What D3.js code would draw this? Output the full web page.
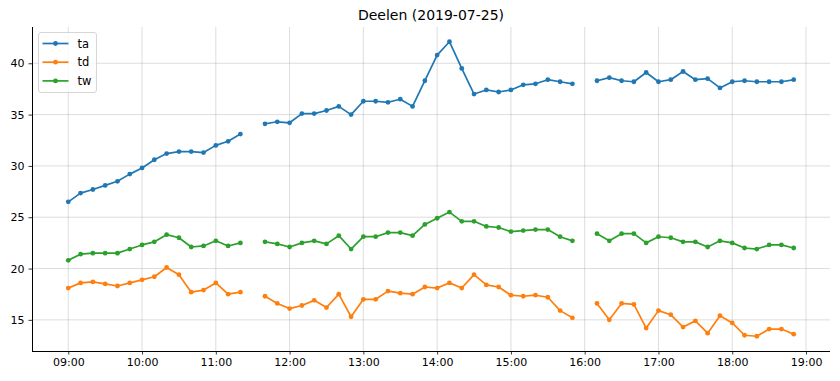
<!DOCTYPE html>
<html>
<head>
<meta charset="utf-8">
<script src="https://cdn.jsdelivr.net/npm/d3@7"></script>
<style>
  body { margin: 0; background: #fff; }
  svg { display: block; font-family: "DejaVu Sans", sans-serif; }
</style>
</head>
<body>
<svg id="chart" width="840" height="381"></svg>
<script>
// 10-minute observations, 09:00 .. 18:50 (null = missing)
const times = [
  "09:00","09:10","09:20","09:30","09:40","09:50",
  "10:00","10:10","10:20","10:30","10:40","10:50",
  "11:00","11:10","11:20","11:30","11:40","11:50",
  "12:00","12:10","12:20","12:30","12:40","12:50",
  "13:00","13:10","13:20","13:30","13:40","13:50",
  "14:00","14:10","14:20","14:30","14:40","14:50",
  "15:00","15:10","15:20","15:30","15:40","15:50",
  "16:00","16:10","16:20","16:30","16:40","16:50",
  "17:00","17:10","17:20","17:30","17:40","17:50",
  "18:00","18:10","18:20","18:30","18:40","18:50"
];
const ta = [
  26.5,27.35,27.7,28.1,28.5,29.2,
  29.8,30.6,31.2,31.4,31.4,31.3,
  32.0,32.4,33.1,null,34.1,34.3,
  34.2,35.1,35.1,35.4,35.8,35.0,
  36.3,36.3,36.2,36.5,35.8,38.3,
  40.8,42.1,39.5,37.0,37.4,37.2,
  37.4,37.9,38.0,38.4,38.2,38.0,
  null,38.3,38.6,38.3,38.2,39.1,
  38.2,38.4,39.2,38.4,38.5,37.6,
  38.2,38.3,38.2,38.2,38.2,38.4
];
const td = [
  18.1,18.6,18.7,18.5,18.3,18.6,
  18.9,19.2,20.1,19.4,17.7,17.9,
  18.6,17.5,17.7,null,17.3,16.6,
  16.1,16.4,16.9,16.2,17.5,15.3,
  17.0,17.0,17.8,17.6,17.5,18.2,
  18.1,18.6,18.1,19.4,18.4,18.2,
  17.4,17.3,17.4,17.2,15.9,15.2,
  null,16.6,15.0,16.6,16.5,14.2,
  15.9,15.5,14.3,14.9,13.7,15.4,
  14.7,13.5,13.4,14.1,14.1,13.6
];
const tw = [
  20.8,21.4,21.5,21.5,21.5,21.9,
  22.3,22.6,23.3,23.0,22.1,22.2,
  22.7,22.2,22.5,null,22.6,22.4,
  22.1,22.5,22.7,22.4,23.2,21.9,
  23.1,23.1,23.5,23.5,23.2,24.3,
  24.9,25.5,24.6,24.6,24.1,24.0,
  23.6,23.7,23.8,23.8,23.1,22.7,
  null,23.4,22.7,23.4,23.4,22.5,
  23.1,23.0,22.6,22.6,22.1,22.7,
  22.5,22.0,21.9,22.3,22.3,22.0
];
const seriesNames = ["ta","td","tw"];
const seriesColors = ["#1f77b4","#ff7f0e","#2ca02c"];
const yTickValues = [15,20,25,30,35,40];
const xTickLabels = ["09:00","10:00","11:00","12:00","13:00","14:00","15:00","16:00","17:00","18:00","19:00"];
const title = "Deelen (2019-07-25)";
const day = "2019-07-25";

const parse = d3.timeParse("%Y-%m-%d %H:%M");
const dates = times.map(t => parse(day + " " + t));
const allSeries = [ta, td, tw];

const svg = d3.select("#chart");
const m = {left: 32, right: 10, top: 27, bottom: 30};
const W = 840, H = 381;
const plotR = W - m.right, plotB = H - m.bottom;

// matplotlib-style 5% margins
const xExt = d3.extent(dates);
const xPad = (xExt[1] - xExt[0]) * 0.05;
const x = d3.scaleTime()
  .domain([new Date(+xExt[0] - xPad), new Date(+xExt[1] + xPad)])
  .range([m.left, plotR]);
const allVals = allSeries.flat().filter(v => v != null);
const yMin = d3.min(allVals), yMax = d3.max(allVals);
const yPad = (yMax - yMin) * 0.05;
const y = d3.scaleLinear().domain([yMin - yPad, yMax + yPad]).range([plotB, m.top]);

const xTicks = xTickLabels.map(t => parse(day + " " + t));

// grid
const g = svg.append("g");
g.selectAll("line.gx").data(xTicks).join("line")
  .attr("x1", d => x(d)).attr("x2", d => x(d))
  .attr("y1", m.top).attr("y2", plotB)
  .attr("stroke", "#b0b0b0").attr("stroke-opacity", 0.55).attr("stroke-width", 0.8);
g.selectAll("line.gy").data(yTickValues).join("line")
  .attr("x1", m.left).attr("x2", plotR)
  .attr("y1", d => y(d)).attr("y2", d => y(d))
  .attr("stroke", "#b0b0b0").attr("stroke-opacity", 0.55).attr("stroke-width", 0.8);

// series
allSeries.forEach((vals, i) => {
  const pts = dates.map((d, j) => ({d, v: vals[j]}));
  const line = d3.line().defined(p => p.v != null).x(p => x(p.d)).y(p => y(p.v));
  svg.append("path").datum(pts)
    .attr("d", line).attr("fill", "none")
    .attr("stroke", seriesColors[i]).attr("stroke-width", 1.7)
    .attr("stroke-linejoin", "round").attr("stroke-linecap", "square");
  svg.append("g").selectAll("circle").data(pts.filter(p => p.v != null)).join("circle")
    .attr("cx", p => x(p.d)).attr("cy", p => y(p.v)).attr("r", 2.4)
    .attr("fill", seriesColors[i]);
});

// axes
const xAxis = d3.axisBottom(x).tickValues(xTicks).tickFormat(d3.timeFormat("%H:%M")).tickSize(3.5).tickPadding(4);
const yAxis = d3.axisLeft(y).tickValues(yTickValues).tickFormat(d3.format("d")).tickSize(3.5).tickPadding(4);
const gx = svg.append("g").attr("transform", `translate(0,${plotB})`).call(xAxis);
const gy = svg.append("g").attr("transform", `translate(${m.left},0)`).call(yAxis);
[gx, gy].forEach(a => {
  a.select(".domain").attr("stroke", "#000").attr("stroke-width", 1);
  a.selectAll(".tick line").attr("stroke", "#000").attr("stroke-width", 0.8);
  a.selectAll(".tick text").attr("fill", "#000").attr("font-size", 11).attr("font-family", "DejaVu Sans");
});
gx.select(".domain").attr("d", `M${m.left},0.5H${plotR}`);
gy.select(".domain").attr("d", `M0.5,${plotB}V${m.top}`);

// title
svg.append("text").attr("x", (m.left + plotR) / 2).attr("y", 20)
  .attr("text-anchor", "middle").attr("font-size", 14).attr("fill", "#000")
  .text(title);

// legend
const lg = svg.append("g").attr("transform", "translate(38.5,32.5)");
lg.append("rect").attr("width", 58).attr("height", 60).attr("rx", 2.5)
  .attr("fill", "#fff").attr("fill-opacity", 0.8)
  .attr("stroke", "#cccccc").attr("stroke-width", 0.8);
seriesNames.forEach((n, i) => {
  const yy = 11 + i * 18.7;
  lg.append("line").attr("x1", 4).attr("x2", 30).attr("y1", yy).attr("y2", yy)
    .attr("stroke", seriesColors[i]).attr("stroke-width", 1.7);
  lg.append("circle").attr("cx", 17).attr("cy", yy).attr("r", 2.4).attr("fill", seriesColors[i]);
  lg.append("text").attr("x", 39).attr("y", yy + 4).attr("font-size", 11.5).attr("fill", "#000").text(n);
});
</script>
</body>
</html>
